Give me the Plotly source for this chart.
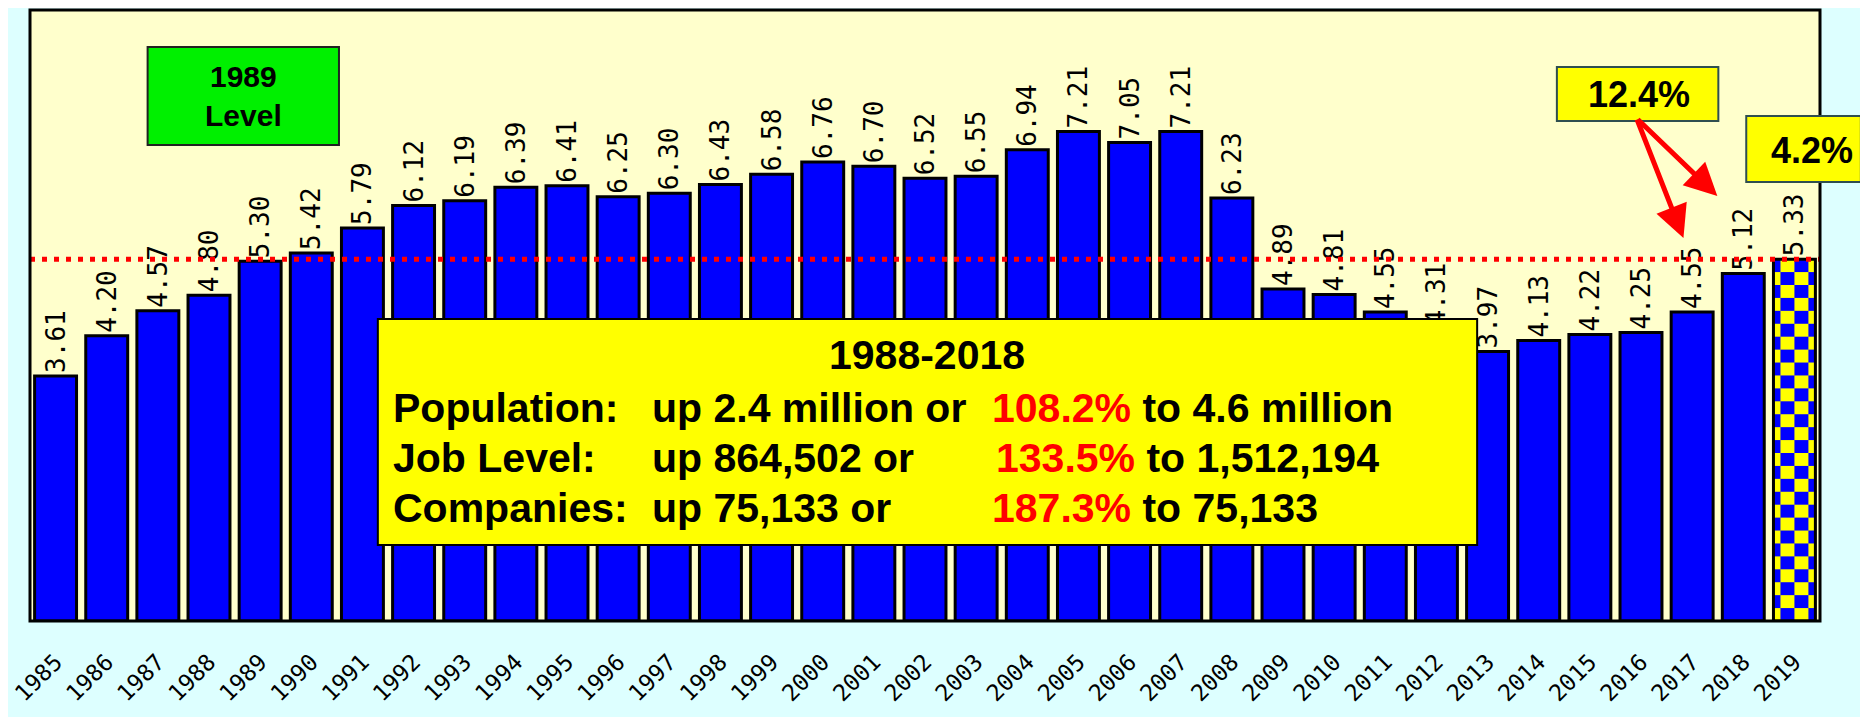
import base64
import plotly.graph_objects as go

# ---------------- data ----------------
years = ["1985", "1986", "1987", "1988", "1989", "1990", "1991", "1992", "1993",
         "1994", "1995", "1996", "1997", "1998", "1999", "2000", "2001", "2002",
         "2003", "2004", "2005", "2006", "2007", "2008", "2009", "2010", "2011",
         "2012", "2013", "2014", "2015", "2016", "2017", "2018", "2019"]
values = [3.61, 4.20, 4.57, 4.80, 5.30, 5.42, 5.79, 6.12, 6.19, 6.39, 6.41, 6.25,
          6.30, 6.43, 6.58, 6.76, 6.70, 6.52, 6.55, 6.94, 7.21, 7.05, 7.21, 6.23,
          4.89, 4.81, 4.55, 4.31, 3.97, 4.13, 4.22, 4.25, 4.55, 5.12, 5.33]
highlight_year = "2019"
ref_level = 5.33          # dotted "1989 Level" reference line
level_label = "1989<br>Level"
growth_labels = ["12.4%", "4.2%"]
summary_title = "1988-2018"
summary_rows = [
    ("Population:", "up 2.4 million or", "108.2%", "to 4.6 million"),
    ("Job Level:", "up 864,502 or", "133.5%", "to 1,512,194"),
    ("Companies:", "up 75,133 or", "187.3%", "to 75,133"),
]

# ---------------- geometry helpers ----------------
W, H = 1868, 717
OFF = 8                      # page body margin of the generated html
SL, SR, ST, SB = 24, 1820, 10, 621   # plot box in screen pixels
L, R, T, B = SL - OFF, SR - OFF, ST - OFF, SB - OFF


def px(x):
    return (x - SL) / (SR - SL)


def py(y):
    return (SB - y) / (SB - ST)


BLUE = "#0000FF"
YELLOW = "#FFFF00"
bargap = 0.18
hi_idx = years.index(highlight_year)

colors = ["rgba(0,0,0,0)" if y == highlight_year else BLUE for y in years]

fig = go.Figure()
fig.add_trace(go.Bar(
    x=years, y=values,
    marker=dict(color=colors, line=dict(color="black", width=3)),
    text=[f"{v:.2f}" for v in values],
    textposition="outside",
    textangle=-90,
    textfont=dict(family="DejaVu Sans Mono", size=26, color="black"),
    cliponaxis=False,
    constraintext="none",
    hoverinfo="x+y",
))

# checkerboard fill for highlighted bar (image under the transparent bar)
svg = (
    '<svg xmlns="http://www.w3.org/2000/svg" width="36" height="364" '
    'viewBox="0 0 36 364" preserveAspectRatio="none">'
    '<defs><pattern id="c" x="-6" y="0" width="24" height="26" patternUnits="userSpaceOnUse">'
    '<rect width="24" height="26" fill="#FFFF00"/>'
    '<rect x="0" y="0" width="12" height="13" fill="#0000FF"/>'
    '<rect x="12" y="13" width="12" height="13" fill="#0000FF"/>'
    '</pattern></defs>'
    '<rect width="36" height="364" fill="url(#c)"/></svg>'
)
uri = "data:image/svg+xml;base64," + base64.b64encode(svg.encode()).decode()
bw = 1 - bargap
fig.add_layout_image(dict(
    source=uri, xref="x", yref="y",
    x=hi_idx - bw / 2, y=values[hi_idx], sizex=bw, sizey=values[hi_idx],
    xanchor="left", yanchor="top", sizing="stretch", layer="below",
))

shapes = []
# dotted reference line
shapes.append(dict(type="line", xref="paper", yref="y", x0=0, x1=1,
                   y0=ref_level, y1=ref_level, layer="above",
                   line=dict(color="#FF0000", width=5, dash="5px,7px")))
# plot border
shapes.append(dict(type="rect", xref="paper", yref="paper", x0=0, x1=1, y0=0, y1=1,
                   layer="above", line=dict(color="black", width=3),
                   fillcolor="rgba(0,0,0,0)"))


def box(x0, y0, x1, y1, fill, line_color, lw=2):
    shapes.append(dict(type="rect", xref="paper", yref="paper",
                       x0=px(x0), x1=px(x1), y0=py(y1), y1=py(y0),
                       layer="above", fillcolor=fill,
                       line=dict(color=line_color, width=lw)))


box(142, 47, 334, 145, "#00F000", "#222222")
box(1556, 67, 1718, 121, YELLOW, "#2F4F4F")
box(1746, 116, 1861, 182, YELLOW, "#2F4F4F")
box(373, 319, 1476, 545, YELLOW, "black")

annotations = []
FONT = "Liberation Sans"


def label(x, y, text, size, color="black", xanchor="center"):
    annotations.append(dict(xref="paper", yref="paper", x=px(x), y=py(y),
                            text=text, showarrow=False, xanchor=xanchor,
                            yanchor="middle", borderpad=0, borderwidth=0,
                            font=dict(family=FONT, size=size, color=color,
                                      weight="bold")))


label(238, 96, level_label, 30)
label(1638, 95, growth_labels[0], 36)
label(1812, 150, growth_labels[1], 36)

label(924, 355, summary_title, 41)
row_y = [408, 458, 508]
col1_x = 388
col2_x = 648
col3_x = [989, 993, 989]
for (c1, c2, pct, c4), yy, x3 in zip(summary_rows, row_y, col3_x):
    label(col1_x, yy, c1, 41, xanchor="left")
    label(col2_x, yy, c2, 41, xanchor="left")
    label(x3, yy, f"<span style='color:#FF0000'>{pct}</span> {c4}", 41,
          xanchor="left")

# arrows from the 12.4% box to the 2017 and 2018 bars
tail = (1636, 118)
for hx, hy in [(1683, 238), (1717, 196)]:
    annotations.append(dict(xref="paper", yref="paper", x=px(hx), y=py(hy),
                            ax=tail[0] - hx, ay=tail[1] - hy, text="",
                            showarrow=True, arrowhead=2, arrowsize=1.3,
                            arrowwidth=5, arrowcolor="#FF0000", standoff=0,
                            startstandoff=0))

fig.update_layout(
    width=W, height=H, autosize=False,
    margin=dict(l=L, r=W - R, t=T, b=H - B, pad=0),
    paper_bgcolor="#DDFFFF",
    plot_bgcolor="#FFFFCC",
    bargap=bargap,
    showlegend=False,
    shapes=shapes,
    annotations=annotations,
    xaxis=dict(type="category", showgrid=False, zeroline=False, showline=False,
               tickangle=-45, ticks="", ticklabelstandoff=22,
               tickfont=dict(family="DejaVu Sans Mono", size=23, color="black"),
               range=[-0.5, len(years) - 0.5]),
    yaxis=dict(range=[0, 9.0], showgrid=False, zeroline=False, showline=False,
               showticklabels=False, ticks=""),
)

fig.write_html("out.html")
